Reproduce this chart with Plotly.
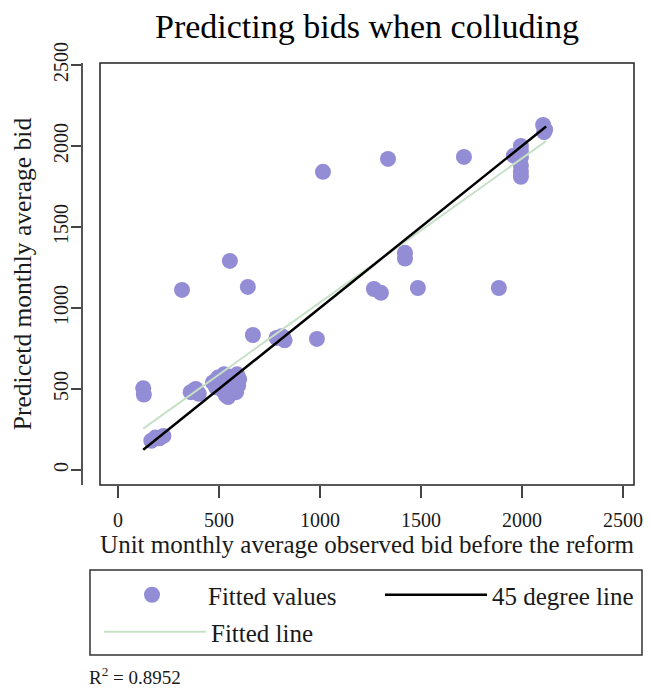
import plotly.graph_objects as go

# Scatter data: observed bid (x) vs predicted bid (y)
x_obs = [125, 128, 165, 185, 205, 225,
         317,
         360, 385, 400, 375,
         470, 485, 495, 510, 520, 525, 535, 545, 555, 560, 575, 585, 590, 595, 600, 545, 520,
         554, 643, 668,
         785, 810, 825, 817,
         985, 1015, 1267, 1302, 1337, 1421, 1421, 1485, 1713, 1886,
         1960, 1995, 1995, 1995, 1995, 1995, 1995,
         2105, 2115, 2110]
y_pred = [505, 465, 180, 200, 195, 210,
          1111,
          480, 500, 470, 490,
          540, 510, 570, 545, 490, 590, 460, 530, 575, 500, 545, 480, 590, 520, 560, 450, 520,
          1290, 1130, 833,
          815, 825, 800, 821,
          809, 1840, 1117, 1093, 1920, 1340, 1305, 1123, 1932, 1123,
          1940, 2000, 1970, 1930, 1880, 1840, 1810,
          2130, 2100, 2085]

line45_x = [125, 2120]
line45_y = [125, 2120]
fit_x = [125, 2120]
fit_y = [255, 2030]

x_ticks = [0, 500, 1000, 1500, 2000, 2500]
y_ticks = [0, 500, 1000, 1500, 2000, 2500]

FONT = "Liberation Serif"
TXT = "#1a1a1a"

# page has an 8px body margin; size the figure so it fits the window
OFF = 8
W, H = 651 - OFF, 689 - OFF
# desired plot area in page pixels: left 100, right 634, top 63, bottom 485
L, T = 100 - OFF, 63 - OFF
R = W - (634 - OFF)
B = H - (485 - OFF)
PW, PH = W - L - R, H - T - B


def px_x(p):  # page pixel -> paper x
    return (p - OFF - L) / PW


def px_y(p):  # page pixel -> paper y
    return (H - B - (p - OFF)) / PH


fig = go.Figure()
fig.add_trace(go.Scatter(x=x_obs, y=y_pred, mode="markers", name="Fitted values",
                         marker=dict(size=16, color="#938dd5", line=dict(width=0)),
                         legend="legend", showlegend=True))
fig.add_trace(go.Scatter(x=fit_x, y=fit_y, mode="lines", name="Fitted line",
                         line=dict(color="#c6e0c6", width=2), legend="legend2",
                         showlegend=True))
fig.add_trace(go.Scatter(x=line45_x, y=line45_y, mode="lines", name="45 degree line",
                         line=dict(color="black", width=2.5), legend="legend3",
                         showlegend=True))

leg_common = dict(orientation="h", xanchor="left", yanchor="middle",
                  bgcolor="rgba(0,0,0,0)", borderwidth=0, itemwidth=102,
                  font=dict(size=25, family=FONT, color=TXT))

fig.update_layout(
    width=W, height=H,
    showlegend=True,
    margin=dict(l=L, r=R, t=T, b=B),
    paper_bgcolor="white", plot_bgcolor="white",
    font=dict(family=FONT, color=TXT, size=20),
    title=dict(text="Predicting bids when colluding", x=0.5, xref="paper",
               yref="container", y=1 - (26 - OFF) / H, yanchor="middle",
               font=dict(family=FONT, size=34, color="black")),
    xaxis=dict(range=[-89, 2555], tickvals=x_ticks, ticks="outside", ticklen=12,
               tickwidth=1.5, tickcolor="#444", showgrid=False, zeroline=False,
               showline=False, tickfont=dict(size=20), automargin=False,
               ticklabelstandoff=5,
               title=dict(text="Unit monthly average observed bid before the reform",
                          font=dict(size=25), standoff=0)),
    yaxis=dict(range=[-93, 2512], tickvals=y_ticks, ticks="outside", ticklen=10,
               tickwidth=1.5, tickcolor="#444", showgrid=False, zeroline=False,
               showline=True, linecolor="#555", linewidth=1.5,
               anchor="free", position=0, shift=-18, automargin=False,
               tickangle=-90, tickfont=dict(size=20), ticklabelstandoff=-5,
               title=dict(text="Predicetd monthly average bid", font=dict(size=25.5), standoff=14)),
    legend=dict(x=px_x(96), y=px_y(595), **leg_common),
    legend3=dict(x=px_x(380), y=px_y(595), **leg_common),
    legend2=dict(x=px_x(99), y=px_y(632), **leg_common),
    shapes=[dict(type="rect", xref="paper", yref="paper", x0=0, x1=1, y0=0, y1=1,
                 line=dict(color="#222", width=1.5), fillcolor="rgba(0,0,0,0)"),
            dict(type="rect", xref="paper", yref="paper",
                 x0=px_x(90), x1=px_x(642), y0=px_y(655), y1=px_y(570),
                 line=dict(color="#333", width=1.5), fillcolor="rgba(0,0,0,0)")],
    annotations=[dict(text="R<sup>2</sup> = 0.8952", xref="paper", yref="paper",
                      x=px_x(87), y=px_y(676), xanchor="left", yanchor="middle",
                      showarrow=False, font=dict(size=19, family=FONT, color=TXT))],
)

fig.write_html("out.html")
